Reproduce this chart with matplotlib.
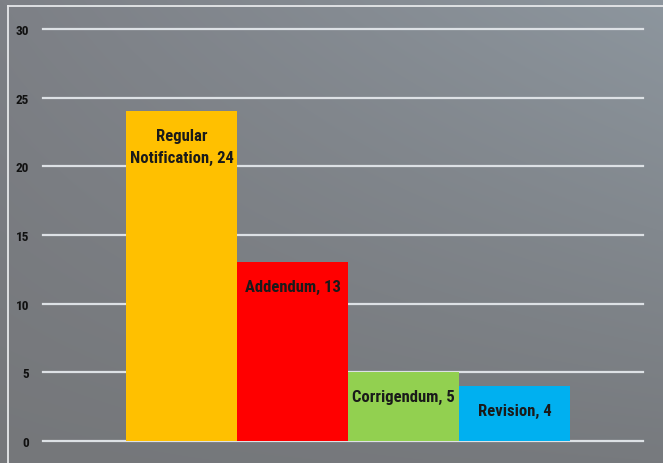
import numpy as np
import matplotlib
matplotlib.use("Agg")
import matplotlib.pyplot as plt
from matplotlib.lines import Line2D

categories = ["Regular\nNotification", "Addendum", "Corrigendum", "Revision"]
values = [24, 13, 5, 4]
colors = ["#FFC000", "#FF0000", "#92D050", "#00B0F0"]
yticks = [0, 5, 10, 15, 20, 25, 30]

FAM = ["Roboto Condensed", "Open Sans Condensed", "Liberation Sans Narrow", "DejaVu Sans"]

W, H = 663, 464
fig = plt.figure(figsize=(W / 100, H / 100), dpi=100)

# background gradient (bilinear between corner colours)
tl = np.array([0x7d, 0x80, 0x86]) / 255
tr = np.array([0x8d, 0x96, 0x9e]) / 255
bl = np.array([0x75, 0x77, 0x7a]) / 255
br = np.array([0x77, 0x7a, 0x7e]) / 255
u = np.linspace(0, 1, 200)[None, :, None]
v = np.linspace(0, 1, 140)[:, None, None]
grad = (1 - v) * ((1 - u) * tl + u * tr) + v * ((1 - u) * bl + u * br)
bg = fig.add_axes([0, 0, 1, 1])
bg.imshow(grad, aspect="auto", extent=[0, 1, 0, 1], origin="upper", interpolation="bilinear")
bg.set_xlim(0, 1)
bg.set_ylim(0, 1)
bg.axis("off")

# outer border
fig.add_artist(Line2D([7.5 / W, 7.5 / W], [0, 1 - 6.5 / H], transform=fig.transFigure,
                      color="#e6e8ea", lw=1.3))
fig.add_artist(Line2D([7.5 / W, 1], [1 - 6.5 / H, 1 - 6.5 / H], transform=fig.transFigure,
                      color="#e6e8ea", lw=1.3))

left, right = 43 / W, 643 / W
bottom, top = 1 - 442 / H, 1 - 30 / H
ax = fig.add_axes([left, bottom, right - left, top - bottom])
ax.patch.set_alpha(0)

x = np.arange(len(values))
ax.bar(x, values, width=1.0, color=colors, zorder=2)
ax.set_xlim(-1.248, 4.158)
ax.set_ylim(0, 30)
ax.set_yticks(yticks)
ax.set_yticklabels([str(t) for t in yticks], fontsize=9.5, fontweight="bold",
                   color="#111111", family=FAM, fontstretch="condensed")
ax.tick_params(axis="y", length=0, pad=10)
ax.set_xticks([])
for s in ax.spines.values():
    s.set_visible(False)
ax.grid(axis="y", color="#dde1e5", lw=1.6, zorder=1)
ax.set_axisbelow(True)
for gl in ax.get_ygridlines():
    gl.set_clip_on(False)

for xi, (c, val) in enumerate(zip(categories, values)):
    ax.annotate(f"{c}, {val}", xy=(xi, val), xytext=(0, -12), textcoords="offset points",
                ha="center", va="top", fontsize=12, fontweight="bold", color="#1a1a1a",
                family=FAM, fontstretch="condensed", linespacing=1.6, zorder=3)

fig.savefig("out.png", dpi=100)
